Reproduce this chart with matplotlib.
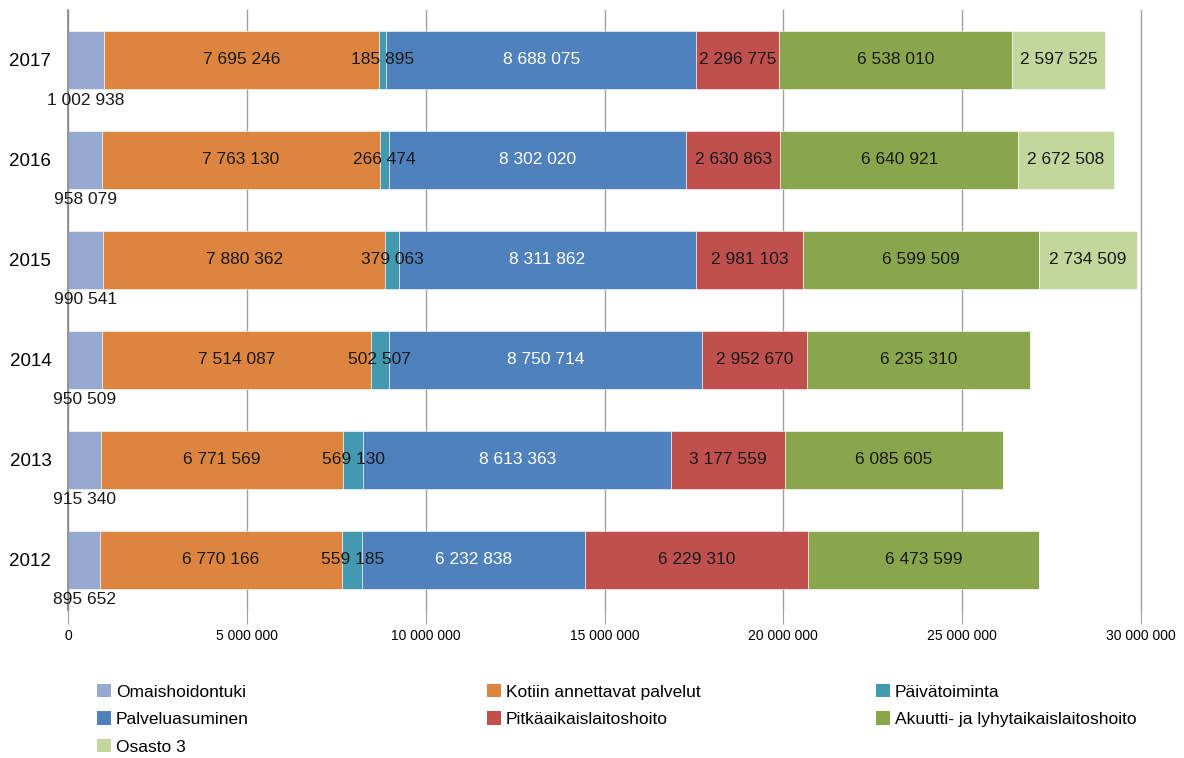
import matplotlib.pyplot as plt
import matplotlib as mpl
from matplotlib.patches import Patch

# === Setup ===
mpl.rcParams['font.family'] = ['Liberation Sans', 'DejaVu Sans']

# === Data ===
years = ['2012', '2013', '2014', '2015', '2016', '2017']
series_names = [
    'Omaishoidontuki', 'Kotiin annettavat palvelut', 'Päivätoiminta',
    'Palveluasuminen', 'Pitkäaikaislaitoshoito', 'Akuutti- ja lyhytaikaislaitoshoito',
    'Osasto 3',
]
omaishoidontuki = [895652, 915340, 950509, 990541, 958079, 1002938]
kotiin = [6770166, 6771569, 7514087, 7880362, 7763130, 7695246]
paivatoiminta = [559185, 569130, 502507, 379063, 266474, 185895]
palveluasuminen = [6232838, 8613363, 8750714, 8311862, 8302020, 8688075]
pitkaaikais = [6229310, 3177559, 2952670, 2981103, 2630863, 2296775]
akuutti = [6473599, 6085605, 6235310, 6599509, 6640921, 6538010]
osasto3 = [0, 0, 0, 2734509, 2672508, 2597525]
series = [omaishoidontuki, kotiin, paivatoiminta, palveluasuminen,
          pitkaaikais, akuutti, osasto3]
colors = ['#95a9d1', '#dd843f', '#4299b0', '#4f81bd', '#c0504d', '#8aa64c', '#c3d69b']
x_ticks = [0, 5000000, 10000000, 15000000, 20000000, 25000000, 30000000]


def fmt(v):
    return f"{v:,}".replace(',', ' ')


# === Plotting ===
fig = plt.figure(figsize=(11.84, 7.58), dpi=100)
ax = fig.add_axes([68 / 1184, 1 - 610 / 758, (1141 - 68) / 1184, 600 / 758])

ypos = list(range(len(years)))
left = [0] * len(years)
for k, (vals, col) in enumerate(zip(series, colors)):
    ax.barh(ypos, vals, left=left, height=0.58, color=col, zorder=2,
            edgecolor='white', linewidth=0.4)
    for i, v in enumerate(vals):
        if v == 0:
            continue
        cx = left[i] + v / 2
        if k == 0:
            ax.text(cx, ypos[i] - 0.4, fmt(v), ha='center', va='center',
                    fontsize=12.5, color='#1a1a1a', zorder=3)
        else:
            tc = 'white' if k == 3 else '#1a1a1a'
            ax.text(cx, ypos[i], fmt(v), ha='center', va='center',
                    fontsize=12.5, color=tc, zorder=3)
    left = [l + v for l, v in zip(left, vals)]

ax.set_xlim(0, 30000000)
ax.set_ylim(-0.5, len(years) - 0.5)
ax.set_yticks(ypos)
ax.set_yticklabels(years, fontsize=13.5)
ax.set_xticks(x_ticks)
ax.set_xticklabels([fmt(t) for t in x_ticks], fontsize=10)
ax.grid(axis='x', color='#a0a0a0', linewidth=1, zorder=0)
for gl in ax.get_xgridlines():
    gl.set_clip_on(False)
for s in ['top', 'right', 'bottom']:
    ax.spines[s].set_visible(False)
ax.spines['left'].set_color('#868686')
ax.spines['left'].set_linewidth(1.2)
ax.tick_params(axis='y', length=0, pad=12)
ax.tick_params(axis='x', length=10, color='#a0a0a0', pad=4)

# === Legend (three columns) ===
handles = [Patch(facecolor=c, edgecolor='none') for c in colors]
columns = [([0, 3, 6], 90), ([1, 4], 480), ([2, 5], 869)]
for idx, xpix in columns:
    fig.legend([handles[i] for i in idx], [series_names[i] for i in idx],
               loc='upper left', bbox_to_anchor=(xpix / 1184, 1 - 677 / 758),
               frameon=False, fontsize=12.5, handlelength=0.8, handleheight=0.8,
               handletextpad=0.3, labelspacing=0.68, borderaxespad=0)

fig.savefig('out.png', dpi=100)
